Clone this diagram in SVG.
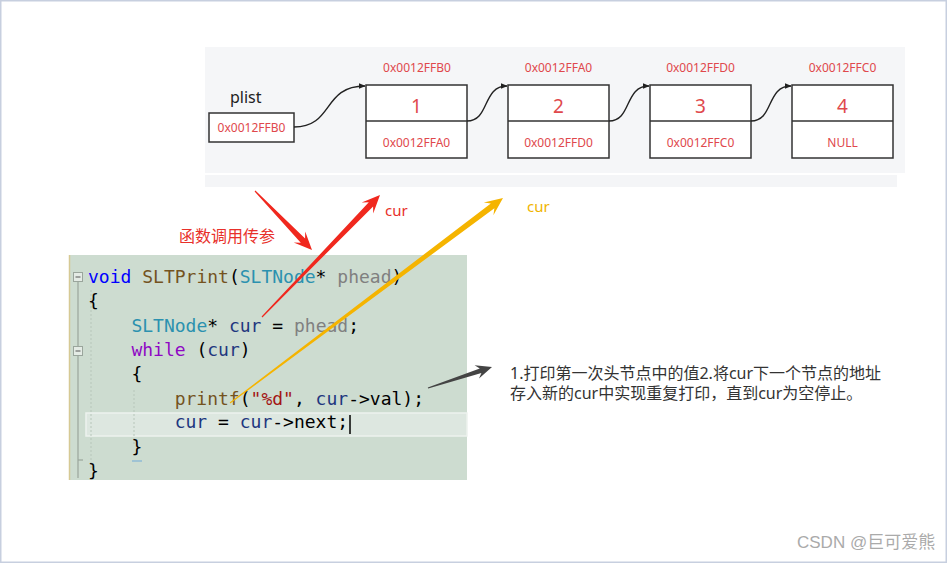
<svg xmlns="http://www.w3.org/2000/svg" width="948" height="564" viewBox="0 0 948 564">
<defs>
<marker id="ah" viewBox="0 0 10 10" refX="9" refY="5" markerWidth="7" markerHeight="7" markerUnits="userSpaceOnUse" orient="auto">
<path d="M0,1 L10,5 L0,9 Z" fill="#222"/>
</marker>
<style>
.nd{fill:#fff;stroke:#333;stroke-width:1.5}
.addr{font-family:"Noto Sans","Liberation Sans",sans-serif;font-size:12px;fill:#e0484c;text-anchor:middle}
.num{font-family:"Noto Sans","Liberation Sans",sans-serif;font-size:19px;fill:#e0484c;text-anchor:middle}
.lnk{fill:none;stroke:#222;stroke-width:1.4;marker-end:url(#ah)}
.code{font-family:"DejaVu Sans Mono","Liberation Mono",monospace;font-size:18px;fill:#000;white-space:pre}
.kw{fill:#0000ff}.fn{fill:#74531f}.ty{fill:#2b91af}.pa{fill:#808080}.lv{fill:#1f377f}.ct{fill:#8f08c4}.st{fill:#a31515}
.cjk{font-family:"Noto Sans","Noto Sans CJK SC",sans-serif}
</style>
</defs>
<rect x="0" y="0" width="948" height="564" fill="#fff"/>
<rect x="0.75" y="0.75" width="945.5" height="561.5" fill="none" stroke="#c7cfdf" stroke-width="1.5"/>

<!-- top panel -->
<rect x="205" y="47" width="700" height="126" fill="#f5f6f8"/>
<rect x="205" y="175" width="692" height="12" fill="#f4f5f7"/>

<g id="plist">
<text x="230" y="103" font-family="Noto Sans, Liberation Sans, sans-serif" font-size="16" fill="#222">plist</text>
<rect class="nd" x="209" y="113" width="85" height="29"/>
<text class="addr" x="251.5" y="132">0x0012FFB0</text>
</g>
<g id="node1">
<text class="addr" x="417" y="72">0x0012FFB0</text>
<rect class="nd" x="366" y="85" width="101" height="73"/>
<line x1="366" y1="121" x2="467" y2="121" stroke="#333" stroke-width="1.5"/>
<text class="num" x="416.5" y="113">1</text>
<text class="addr" x="416.5" y="147">0x0012FFA0</text>
</g>
<g id="node2">
<text class="addr" x="558.5" y="72">0x0012FFA0</text>
<rect class="nd" x="508" y="85" width="101" height="73"/>
<line x1="508" y1="121" x2="609" y2="121" stroke="#333" stroke-width="1.5"/>
<text class="num" x="558.5" y="113">2</text>
<text class="addr" x="558.5" y="147">0x0012FFD0</text>
</g>
<g id="node3">
<text class="addr" x="700.5" y="72">0x0012FFD0</text>
<rect class="nd" x="650" y="85" width="101" height="73"/>
<line x1="650" y1="121" x2="751" y2="121" stroke="#333" stroke-width="1.5"/>
<text class="num" x="700.5" y="113">3</text>
<text class="addr" x="700.5" y="147">0x0012FFC0</text>
</g>
<g id="node4">
<text class="addr" x="842.5" y="72">0x0012FFC0</text>
<rect class="nd" x="792" y="85" width="101" height="73"/>
<line x1="792" y1="121" x2="893" y2="121" stroke="#333" stroke-width="1.5"/>
<text class="num" x="842.5" y="113">4</text>
<text class="addr" x="842.5" y="147">NULL</text>
</g>

<g id="connectors">
<path class="lnk" d="M294,127 C334,127 322,86 365,86"/>
<path class="lnk" d="M467,121 C490,121 482,86 507,86"/>
<path class="lnk" d="M609,121 C632,121 624,86 649,86"/>
<path class="lnk" d="M751,121 C774,121 766,86 791,86"/>
</g>

<!-- code panel -->
<g id="code">
<rect x="69" y="255" width="398" height="225" fill="#cddcd0"/>
<line x1="69.5" y1="255" x2="69.5" y2="480" stroke="#d6c994" stroke-width="1.5"/>
<rect x="86" y="413" width="381" height="23" fill="#dde7e0" stroke="#edf2ee" stroke-width="1.5"/>
<line x1="91" y1="290" x2="91" y2="470" stroke="#b7c6ba" stroke-dasharray="2,2"/>
<line x1="134" y1="390" x2="134" y2="445" stroke="#b7c6ba" stroke-dasharray="2,2"/>
<line x1="78" y1="282" x2="78" y2="346" stroke="#9aa59c" stroke-width="1.2"/>
<line x1="78" y1="356" x2="78" y2="478" stroke="#9aa59c" stroke-width="1.2"/>
<line x1="78" y1="460" x2="83" y2="460" stroke="#9aa59c" stroke-width="1.2"/>
<rect x="73.5" y="272.5" width="9" height="9" fill="#e4ebe5" stroke="#9aa59c"/>
<line x1="75.5" y1="277" x2="80.5" y2="277" stroke="#555"/>
<rect x="73.5" y="346.5" width="9" height="9" fill="#e4ebe5" stroke="#9aa59c"/>
<line x1="75.5" y1="351" x2="80.5" y2="351" stroke="#555"/>
<line x1="132" y1="461" x2="142" y2="461" stroke="#9fc3d4" stroke-width="2"/>
<text class="code" x="88" y="283"><tspan class="kw">void</tspan> <tspan class="fn">SLTPrint</tspan>(<tspan class="ty">SLTNode</tspan>* <tspan class="pa">phead</tspan>)</text>
<text class="code" x="88" y="307">{</text>
<text class="code" x="131.4" y="332"><tspan class="ty">SLTNode</tspan>* <tspan class="lv">cur</tspan> = <tspan class="pa">phead</tspan>;</text>
<text class="code" x="131.4" y="356"><tspan class="ct">while</tspan> (<tspan class="lv">cur</tspan>)</text>
<text class="code" x="131.4" y="380">{</text>
<text class="code" x="174.7" y="405"><tspan class="fn">printf</tspan>(<tspan class="st">"%d"</tspan>, <tspan class="lv">cur</tspan>-&gt;val);</text>
<text class="code" x="174.7" y="428"><tspan class="lv">cur</tspan> = <tspan class="lv">cur</tspan>-&gt;next;</text>
<line x1="350" y1="415" x2="350" y2="434" stroke="#000" stroke-width="1.5"/>
<text class="code" x="131.4" y="453">}</text>
<text class="code" x="88" y="477">}</text>
</g>

<!-- annotation arrows -->
<g id="arrows">
<polygon fill="#f0281e" points="254.6,191.4 300.8,242.7 293.7,242.6 312,250 305.2,231.5 305.1,238.6 255.4,190.6"/>
<polygon fill="#f0281e" points="262.4,317.4 373.1,206.4 373.2,213.5 380,195 361.7,202.4 368.8,202.3 261.6,316.6"/>
<polygon fill="#f5b400" points="230.3,403.4 494.4,208.2 493.4,215.2 503,198 483.8,202.4 490.8,203.4 229.7,402.6"/>
<polygon fill="#444" points="428.2,388.5 481.4,373.1 479.0,378.6 492,367 474.6,365.3 479.8,368.4 427.8,387.5"/>
</g>

<g id="labels">
<text class="cjk" x="179" y="242" font-size="16" fill="#e8302a">函数调用传参</text>
<text x="385" y="216" font-family="Noto Sans, Liberation Sans, sans-serif" font-size="15" fill="#e8302a">cur</text>
<text x="527" y="212" font-family="Noto Sans, Liberation Sans, sans-serif" font-size="15" fill="#f0b400">cur</text>
<text class="cjk" x="510" y="379" font-size="16" fill="#333">1.打印第一次头节点中的值2.将cur下一个节点的地址</text>
<text class="cjk" x="510" y="399" font-size="16" fill="#333">存入新的cur中实现重复打印，直到cur为空停止。</text>
<text x="797" y="548" font-family="Liberation Sans, Noto Sans CJK SC, sans-serif" font-size="17" fill="#aaa">CSDN @巨可爱熊</text>
</g>
</svg>
